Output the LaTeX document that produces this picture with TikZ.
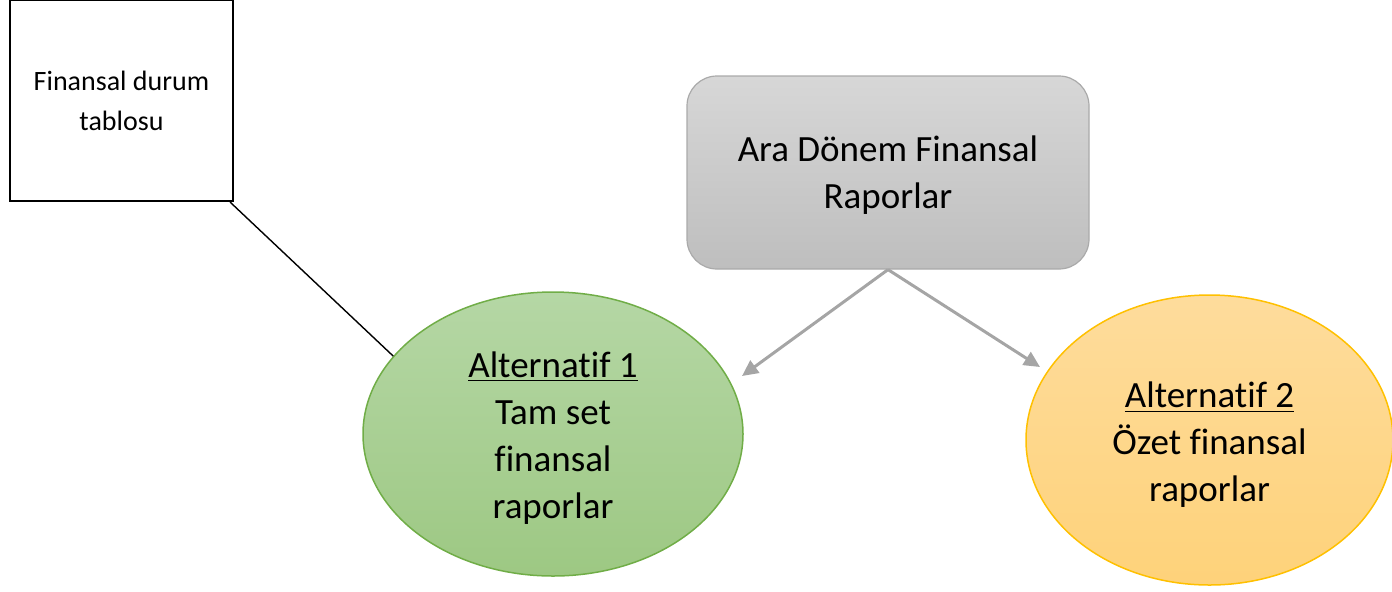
\documentclass[tikz,border=0pt]{standalone}
\usepackage{fontspec}
\setmainfont{Carlito}[Ligatures=NoCommon]
\usetikzlibrary{shapes.geometric,arrows.meta}
\definecolor{arrowgray}{RGB}{165,165,165}
\definecolor{rapline}{RGB}{170,170,170}
\definecolor{rapTop}{RGB}{215,215,215}
\definecolor{rapBot}{RGB}{190,190,190}
\definecolor{altAline}{RGB}{112,173,71}
\definecolor{altAtop}{RGB}{181,215,165}
\definecolor{altAbot}{RGB}{157,200,131}
\definecolor{altBline}{RGB}{255,192,0}
\definecolor{altBtop}{RGB}{254,220,156}
\definecolor{altBbot}{RGB}{254,210,122}

\begin{document}
\begin{tikzpicture}[x=0.5pt, y=-0.5pt,
  bigtext/.style={font=\fontsize{18.5}{23.5}\selectfont, align=center, inner sep=0pt},
  tablebox/.style={draw=black, line width=1pt, minimum width=111.5pt, minimum height=100.5pt, inner sep=0pt, align=center, font=\fontsize{14}{20}\selectfont},
  raporbox/.style={draw=rapline, line width=0.6pt, rounded corners=15pt, top color=rapTop, bottom color=rapBot, minimum width=201pt, minimum height=96.5pt},
  altone/.style={ellipse, draw=altAline, line width=0.75pt, top color=altAtop, bottom color=altAbot, minimum width=190pt, minimum height=142pt},
  alttwo/.style={ellipse, draw=altBline, line width=0.75pt, top color=altBtop, bottom color=altBbot, minimum width=183.5pt, minimum height=145pt},
  grayarrow/.style={draw=arrowgray, line width=1.5pt, -{Triangle[length=8pt,width=7.5pt]}}]
\useasboundingbox (0,0) rectangle (1392,591);

\node[tablebox] (fdt) at (121.5,100.5) {Finansal durum\\tablosu};
\node[raporbox] (ara) at (888,172.5) {};
\node[altone] (alt1) at (553,434) {};
\node[alttwo] (alt2) at (1209.5,440) {};

% texts sit a little below the shape centres
\node[bigtext] (araText) at ([yshift=-1.5pt]ara.center) {Ara Dönem Finansal\\Raporlar};
\node[bigtext] (alt1Text) at ([yshift=-2pt]alt1.center) {\underline{Alternatif 1}\\Tam set\\finansal\\raporlar};
\node[bigtext] (alt2Text) at ([yshift=-2.5pt]alt2.center) {\underline{Alternatif 2}\\Özet finansal\\raporlar};

\coordinate (tip1) at (742,376);  % arrow ends stop short of the ellipses
\coordinate (tip2) at (1040,367);

\draw[line width=0.7pt] ([xshift=-2pt]fdt.south east) -- (alt1.154);
\draw[grayarrow] (ara.south) -- (tip1);
\draw[grayarrow] (ara.south) -- (tip2);
\end{tikzpicture}
\end{document}
